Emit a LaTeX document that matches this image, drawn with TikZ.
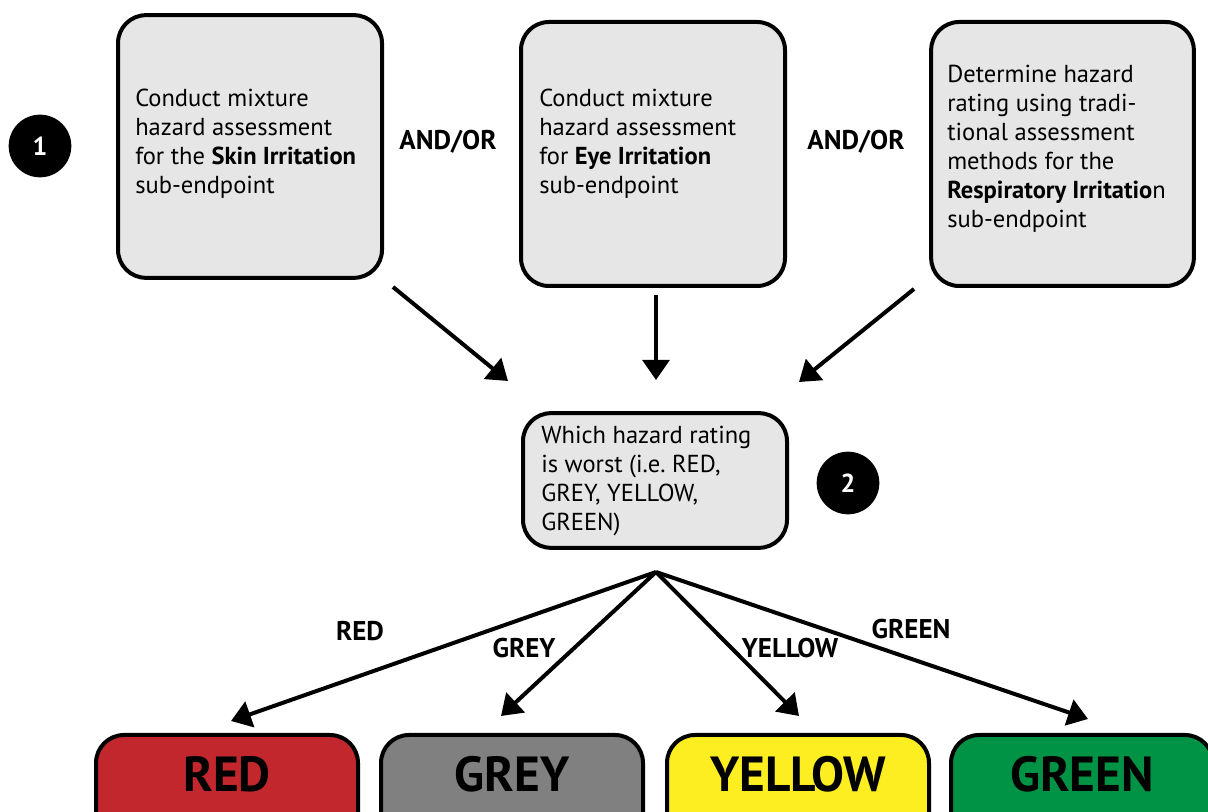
\documentclass[tikz,border=0pt]{standalone}
\usepackage{fontspec}
\setmainfont{PT Sans}
\usetikzlibrary{arrows.meta}
\definecolor{panel}{HTML}{E6E6E6}
\definecolor{ratered}{HTML}{C1272D}
\definecolor{rategrey}{HTML}{808080}
\definecolor{rateyellow}{HTML}{FCEE21}
\definecolor{rategreen}{HTML}{009245}
\tikzset{
  panelbox/.style={draw=black, line width=3pt, fill=panel, rounded corners=21pt},
  body/.style={font=\fontsize{18.4}{21.75}\selectfont, align=left, inner sep=0pt, anchor=west},
  badge/.style={circle, fill=black, minimum size=47pt, inner sep=0pt,
    text=white, font=\fontsize{19.5}{22}\selectfont\bfseries},
  joiner/.style={font=\fontsize{20.3}{22}\selectfont\bfseries, inner sep=0pt},
  flow/.style={line width=3pt, -{Triangle[length=15pt,width=20pt]}},
  rating/.style={draw=black, line width=3pt, rounded corners=21pt, anchor=north,
    minimum width=196.5pt, inner xsep=0pt, inner ysep=0pt,
    text height=42.75pt, text depth=60pt,
    font=\fontsize{37}{40}\selectfont\bfseries},
  branch/.style={font=\fontsize{20.3}{22}\selectfont\bfseries, inner sep=0pt}
}
\begin{document}
\begin{tikzpicture}[x=0.75pt, y=-0.75pt]
\useasboundingbox (0,0) rectangle (1208,812);
\clip (0,0) rectangle (1208,812);
\fill[white] (0,0) rectangle (1208,812);

% step badges
\node[badge] (n1) at (40,146) {1};
\node[badge] (n2) at (848,483) {2};

% sub-endpoint assessments
\node[panelbox, minimum width=198pt, minimum height=197pt] (skin) at (250,146.5) {};
\node[panelbox, minimum width=198pt, minimum height=198pt] (eye) at (653,154) {};
\node[panelbox, minimum width=197pt, minimum height=198pt] (resp) at (1062.5,154) {};

\node[body] (skintxt) at (135,143.5) {Conduct mixture\\hazard assessment\\for the \textbf{Skin Irritation}\\sub-endpoint};
\node[body] (eyetxt) at (539,144) {Conduct mixture\\hazard assessment\\for \textbf{Eye Irritation}\\sub-endpoint};
\node[body] (resptxt) at (947,148.5) {Determine hazard\\rating using tradi-\\tional assessment\\methods for the\\\textbf{Respiratory Irritatio}n\\sub-endpoint};

\node[joiner] (or1) at (448,142) {AND/OR};
\node[joiner] (or2) at (856,142) {AND/OR};

% worst-case decision
\node[panelbox, minimum width=198pt, minimum height=101pt] (worst) at (655,480.5) {};
\node[body] (worsttxt) at (541,481.5) {Which hazard rating\\is worst (i.e.\ RED,\\GREY, YELLOW,\\GREEN)};

% arrow end points
\coordinate (s1) at (393,287);
\coordinate (e1) at (508,381);
\coordinate (s2) at (656,295);
\coordinate (e2) at (656,380);
\coordinate (s3) at (914,289);
\coordinate (e3) at (799,382);
\coordinate (fork) at (656,572);
\coordinate (tred) at (231,721);
\coordinate (tgrey) at (501,716);
\coordinate (tyellow) at (799,716);
\coordinate (tgreen) at (1088,719);

\draw[flow] (s1) -- (e1);
\draw[flow] (s2) -- (e2);
\draw[flow] (s3) -- (e3);

\draw[flow] (fork) -- (tred);
\draw[flow] (fork) -- (tgrey);
\draw[flow] (fork) -- (tyellow);
\draw[flow] (fork) -- (tgreen);

\node[branch] (lred) at (360,631) {RED};
\node[branch] (lgrey) at (524,648) {GREY};
\node[branch] (lyellow) at (790,648) {YELLOW};
\node[branch] (lgreen) at (911,629) {GREEN};

% final ratings
\node[rating, fill=ratered] (red) at (227,733) {RED};
\node[rating, fill=rategrey] (grey) at (512,733) {GREY};
\node[rating, fill=rateyellow] (yellow) at (798,733) {YELLOW};
\node[rating, fill=rategreen] (green) at (1082,733) {GREEN};
\end{tikzpicture}
\end{document}
